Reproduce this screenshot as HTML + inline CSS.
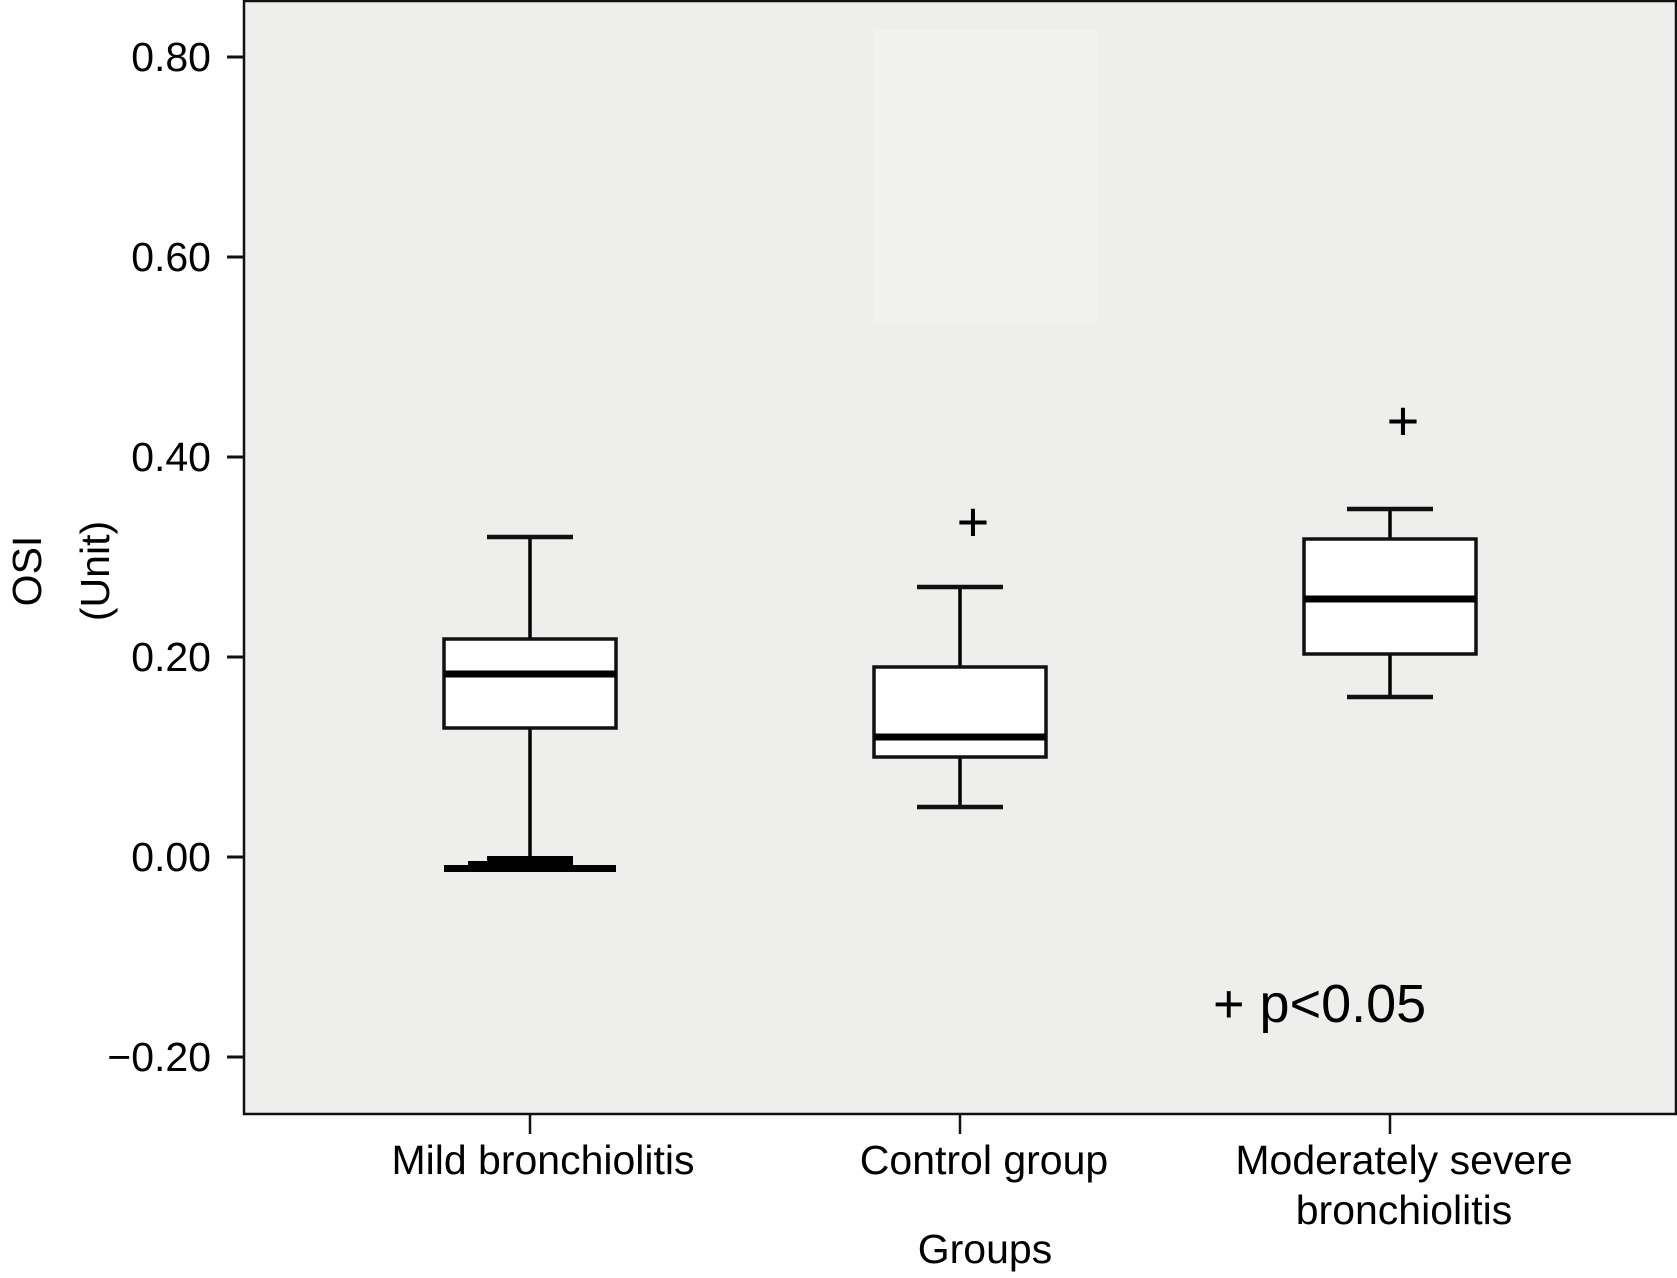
<!DOCTYPE html>
<html><head><meta charset="utf-8"><style>
html,body{margin:0;padding:0;background:#fff;}
svg text{font-family:"Liberation Sans",sans-serif;fill:#000;}
</style></head><body>
<svg width="1677" height="1273" xmlns="http://www.w3.org/2000/svg">
<rect x="244" y="1" width="1432" height="1113" fill="#eeeeec" stroke="#111" stroke-width="2.5"/>
<rect x="875" y="30" width="223" height="293" fill="#f1f1f0"/>
<g id="yaxis"></g>
<g id="xaxis"></g>
<g id="boxes"></g>
<text x="1213" y="1022" font-size="54">+ p&lt;0.05</text>
<text transform="translate(41,571) rotate(-90)" text-anchor="middle" font-size="41">OSI</text>
<text transform="translate(109,571) rotate(-90)" text-anchor="middle" font-size="41">(Unit)</text>
<text x="985" y="1263" text-anchor="middle" font-size="41">Groups</text>
</svg>
<script>
const categories=["Mild bronchiolitis","Control group","Moderately severe bronchiolitis"];
const whiskerMin=[-0.01,0.05,0.16];
const q1=[0.129,0.10,0.203];
const median=[0.183,0.12,0.258];
const q3=[0.218,0.19,0.318];
const whiskerMax=[0.32,0.27,0.348];
const outliers=[null,0.335,0.436];
const yTicks=[0.8,0.6,0.4,0.2,0,-0.2];
const yTickLabels=["0.80","0.60","0.40","0.20","0.00","\u22120.20"];
const NS="http://www.w3.org/2000/svg";
function y(v){return 857-v*1000;}
const xc=[530,960,1390];
function x(i){return xc[i];}
function mk(t,a,p){const e=document.createElementNS(NS,t);for(const k in a)e.setAttribute(k,a[k]);p.appendChild(e);return e;}
const ya=document.getElementById('yaxis');
yTicks.forEach((v,i)=>{
 const l=mk('line',{x1:227,x2:244,y1:y(v),y2:y(v),stroke:'#111','stroke-width':3},ya);
 
 
 const t=mk('text',{x:211,y:y(v)+14,'text-anchor':'end','font-size':41},ya);
 t.textContent=yTickLabels[i];
 
 
});
const xa=document.getElementById('xaxis');
const labelLines=[["Mild bronchiolitis"],["Control group"],["Moderately severe","bronchiolitis"]];
const labelShift=[13,24,14];
categories.forEach((c,i)=>{
 const l=mk('line',{x1:x(i),x2:x(i),y1:1114,y2:1134,stroke:'#111','stroke-width':2.5},xa);
 
 
 labelLines[i].forEach((s,j)=>{
  const t=mk('text',{x:x(i)+labelShift[i],y:1174+j*50,'text-anchor':'middle','font-size':41},xa);
  t.textContent=s;
  
  
 });
});
const bx=document.getElementById('boxes');
categories.forEach((c,i)=>{
 const cx=x(i),hw=86,cw=43;
 const g=mk('g',{},bx);
 
 
 mk('line',{x1:cx,x2:cx,y1:y(whiskerMax[i]),y2:y(q3[i]),stroke:'#000','stroke-width':3.5},g);
 mk('line',{x1:cx,x2:cx,y1:y(q1[i]),y2:y(Math.max(whiskerMin[i],0)),stroke:'#000','stroke-width':3.5},g);
 mk('line',{x1:cx-cw,x2:cx+cw,y1:y(whiskerMax[i]),y2:y(whiskerMax[i]),stroke:'#111','stroke-width':4.5},g);
 if(whiskerMin[i]<0){
  mk('rect',{x:cx-cw,y:y(0)-1,width:2*cw,height:y(whiskerMin[i])-y(0)+1,fill:'#000'},g);
  mk('rect',{x:cx-hw,y:y(whiskerMin[i])-2,width:2*hw,height:7,fill:'#000'},g);
  mk('rect',{x:cx-62,y:y(whiskerMin[i])-6,width:70,height:8,fill:'#000'},g);
 } else {
  mk('line',{x1:cx-cw,x2:cx+cw,y1:y(whiskerMin[i]),y2:y(whiskerMin[i]),stroke:'#111','stroke-width':4.5},g);
 }
 mk('rect',{x:cx-hw,y:y(q3[i]),width:2*hw,height:y(q1[i])-y(q3[i]),fill:'#fff',stroke:'#111','stroke-width':3.5},g);
 mk('line',{x1:cx-hw,x2:cx+hw,y1:y(median[i]),y2:y(median[i]),stroke:'#000','stroke-width':7},g);
 if(outliers[i]!==null){
  const t=mk('text',{x:cx+13,y:y(outliers[i])+19,'text-anchor':'middle','font-size':56},g);
  t.textContent='+';
  
  
 }
});
</script>
</body></html>
